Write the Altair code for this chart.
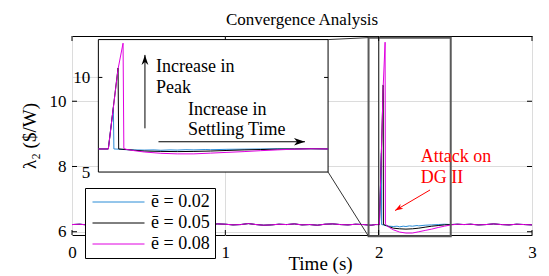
import altair as alt
import pandas as pd

# ---------------- data ----------------
series_names = ["ē = 0.02", "ē = 0.05", "ē = 0.08"]
series_colors = ["#2b8cd6", "#000000", "#e000e0"]

# common signal before the attack (shared by all three runs)
t_pre = [0.00, 0.05, 0.10, 0.15, 0.20, 0.25, 0.30, 0.35, 0.40, 0.45,
         0.50, 0.55, 0.60, 0.65, 0.70, 0.75, 0.80, 0.85, 0.90, 0.95,
         1.00, 1.05, 1.10, 1.15, 1.20, 1.25, 1.30, 1.35, 1.40, 1.45,
         1.50, 1.55, 1.60, 1.65, 1.70, 1.75, 1.80, 1.85, 1.90, 1.95, 1.98]
v_pre = [6.22, 6.23, 6.21, 6.24, 6.22, 6.20, 6.23, 6.25, 6.22, 6.21,
         6.23, 6.20, 6.22, 6.24, 6.21, 6.23, 6.22, 6.19, 6.22, 6.24,
         6.23, 6.21, 6.22, 6.25, 6.22, 6.20, 6.21, 6.23, 6.22, 6.24,
         6.21, 6.22, 6.20, 6.23, 6.24, 6.22, 6.21, 6.23, 6.22, 6.20, 6.22]

# attack transients
t_blue = [2.005, 2.0177, 2.019, 2.03, 2.05, 2.07, 2.095, 2.12, 2.137, 2.16,
          2.178, 2.20, 2.22, 2.25, 2.262, 2.303, 2.346, 2.388, 2.429, 2.472,
          2.514, 2.557]
v_blue = [6.22, 8.41, 6.22, 6.21, 6.18, 6.17, 6.16, 6.17, 6.15, 6.17,
          6.16, 6.18, 6.17, 6.19, 6.18, 6.20, 6.21, 6.22, 6.23, 6.22,
          6.23, 6.22]
t_black = [2.005, 2.0295, 2.031, 2.05, 2.07, 2.095, 2.137, 2.178, 2.22, 2.262,
           2.303, 2.346, 2.388, 2.429, 2.472, 2.514, 2.557]
v_black = [6.22, 10.50, 6.22, 6.19, 6.15, 6.11, 6.09, 6.08, 6.09, 6.11,
           6.14, 6.17, 6.19, 6.21, 6.22, 6.23, 6.22]
t_mag = [2.005, 2.0295, 2.042, 2.044, 2.052, 2.07, 2.095, 2.137, 2.178, 2.22,
         2.262, 2.303, 2.346, 2.388, 2.429, 2.472, 2.514, 2.557]
v_mag = [6.22, 10.45, 11.81, 6.24, 6.19, 6.13, 6.06, 5.99, 5.96, 5.96,
         6.00, 6.04, 6.08, 6.13, 6.17, 6.21, 6.23, 6.22]

# common signal after settling
t_post = [2.60, 2.65, 2.70, 2.75, 2.80, 2.85, 2.90, 2.95, 3.00]
v_post = [6.23, 6.21, 6.22, 6.24, 6.22, 6.21, 6.23, 6.22, 6.21]

x_ticks = [0, 1, 2, 3]
y_ticks = [6, 8, 10]
inset_y_ticks = [5, 10]
attack_time = [2.0]

zoom_box_x = [1.934, 2.470]
zoom_box_y = [5.86, 11.95]
inset_box_x = [0.172, 1.670]
inset_box_y = [7.83, 11.89]
inset_x_dom = [1.98, 2.557]
inset_y_dom = [5, 12]

peak_arrow_t = [2.097, 2.097]
peak_arrow_v = [7.31, 11.19]
settle_arrow_t = [2.131, 2.499]
settle_arrow_v = [6.60, 6.60]
inset_notes = ["Increase in", "Peak", "Increase in", "Settling Time"]
inset_notes_t = [2.125, 2.125, 2.205, 2.205]
inset_notes_v = [10.31, 9.20, 8.02, 6.96]

attack_text = ["Attack on", "DG II"]
attack_text_t = [2.275, 2.275]
attack_text_v = [8.15, 7.49]
attack_arrow_t = [2.335, 2.107]
attack_arrow_v = [7.28, 6.65]

# ---------------- layout / style ----------------
W, H = 460, 199
X_DOM = [0, 3]
Y_DOM = [5.9, 12.0]
FONT = "Liberation Serif, DejaVu Serif, serif"
GRID = "#dcdcdc"
HEAD = "M0,0L0.34,1L0,0.72L-0.34,1Z"   # arrow head, tip at the anchor
LABEL_GAP_PX = 8


def px_x(v):
    return (v - X_DOM[0]) / (X_DOM[1] - X_DOM[0]) * W


def px_y(v):
    return (Y_DOM[1] - v) / (Y_DOM[1] - Y_DOM[0]) * H


def inset_to_main_y(v):
    # value on the inset's y axis -> value on the main y axis
    f = (v - inset_y_dom[0]) / (inset_y_dom[1] - inset_y_dom[0])
    return inset_box_y[0] + f * (inset_box_y[1] - inset_box_y[0])


xs = alt.Scale(domain=X_DOM, nice=False, zero=False)
ys = alt.Scale(domain=Y_DOM, nice=False, zero=False)
ixs = alt.Scale(domain=inset_x_dom, range=[px_x(inset_box_x[0]), px_x(inset_box_x[1])],
                nice=False, zero=False)
iys = alt.Scale(domain=inset_y_dom, range=[px_y(inset_box_y[0]), px_y(inset_box_y[1])],
                nice=False, zero=False)

x_axis = alt.Axis(values=x_ticks, title="Time (s)", grid=True, gridColor=GRID, ticks=False,
                  domain=False, labelFont=FONT, labelFontSize=17, labelPadding=9,
                  labelFlush=False, format="d", titleFont=FONT, titleFontSize=19,
                  titleFontWeight="normal", titlePadding=-6, titleX=248, titleAlign="center",
                  labelColor="black", titleColor="black")
y_axis = alt.Axis(values=y_ticks, title="λ₂ ($/W)", grid=True, gridColor=GRID, ticks=False,
                  domain=False, labelFont=FONT, labelFontSize=17, labelPadding=6,
                  labelFlush=False, format="d", titleFont=FONT, titleFontSize=19,
                  titleFontWeight="normal", titlePadding=10, labelColor="black", titleColor="black")

color_scale = alt.Scale(domain=series_names, range=series_colors)
legend = alt.Legend(orient="none", legendX=13, legendY=152, title=None,
                    symbolType="M-1,0H7", symbolSize=169, symbolStrokeWidth=1,
                    labelFont=FONT, labelFontSize=18, labelOffset=43, labelColor="black",
                    padding=5, rowPadding=3, strokeColor="black", fillColor="white",
                    cornerRadius=0, labelLimit=300)


def MX(f):
    return alt.X(f, type="quantitative", scale=xs, axis=x_axis)


def MY(f):
    return alt.Y(f, type="quantitative", scale=ys, axis=y_axis)


def IX(f):
    return alt.X(f, type="quantitative", scale=ixs, axis=None)


def IY(f):
    return alt.Y(f, type="quantitative", scale=iys, axis=None)


rows = []
for name, tt, vv in zip(series_names, [t_blue, t_black, t_mag], [v_blue, v_black, v_mag]):
    for t, v in zip(t_pre + tt + t_post, v_pre + vv + v_post):
        rows.append({"series": name, "t": t, "v": v})
df = pd.DataFrame(rows)

color_enc = alt.Color("series:N", scale=color_scale, legend=legend)

# ---------------- main axes layers ----------------
main_layers = []
for name in series_names:
    main_layers.append(
        alt.Chart(df).transform_filter(alt.datum.series == name)
        .mark_line(strokeWidth=1)
        .encode(x=MX("t"), y=MY("v"), color=color_enc)
    )

main_layers.append(
    alt.Chart(pd.DataFrame({"t": attack_time})).mark_rule(color="#222222", strokeWidth=1)
    .encode(x=MX("t"))
)

zb = pd.DataFrame({"x": [zoom_box_x[0]], "x2": [zoom_box_x[1]],
                   "y": [zoom_box_y[0]], "y2": [zoom_box_y[1]]})
main_layers.append(
    alt.Chart(zb).mark_rect(fillOpacity=0, stroke="#5a5a5a", strokeWidth=2)
    .encode(x=MX("x"), x2="x2", y=MY("y"), y2="y2")
)

conn = pd.DataFrame({"x": [inset_box_x[1], inset_box_x[1]],
                     "x2": [zoom_box_x[0], zoom_box_x[0]],
                     "y": [inset_box_y[1], inset_box_y[0]],
                     "y2": [zoom_box_y[1], zoom_box_y[0]]})
main_layers.append(
    alt.Chart(conn).mark_rule(color="#333333", strokeWidth=1)
    .encode(x=MX("x"), x2="x2", y=MY("y"), y2="y2")
)

# red annotation
aa = pd.DataFrame({"x": [attack_arrow_t[0]], "x2": [attack_arrow_t[1]],
                   "y": [attack_arrow_v[0]], "y2": [attack_arrow_v[1]]})
main_layers.append(
    alt.Chart(aa).mark_rule(color="#ff0000", strokeWidth=1)
    .encode(x=MX("x"), x2="x2", y=MY("y"), y2="y2")
)
main_layers.append(
    alt.Chart(pd.DataFrame({"t": [attack_arrow_t[1]], "v": [attack_arrow_v[1]]}))
    .mark_point(shape=HEAD, filled=True, color="#ff0000", opacity=1, strokeWidth=0,
                size=256, angle=239)
    .encode(x=MX("t"), y=MY("v"))
)
main_layers.append(
    alt.Chart(pd.DataFrame({"t": attack_text_t, "v": attack_text_v, "s": attack_text}))
    .mark_text(align="left", baseline="alphabetic", font=FONT, fontSize=18, color="#ff0000")
    .encode(x=MX("t"), y=MY("v"), text="s:N")
)

# inward ticks of the main box
xt = pd.DataFrame({"t": x_ticks})
yt = pd.DataFrame({"v": y_ticks})
main_layers.append(alt.Chart(xt).mark_rule(color="black")
                   .encode(x=MX("t"), y=alt.value(H), y2=alt.value(H - 5)))
main_layers.append(alt.Chart(xt).mark_rule(color="black")
                   .encode(x=MX("t"), y=alt.value(0), y2=alt.value(5)))
main_layers.append(alt.Chart(yt).mark_rule(color="black")
                   .encode(y=MY("v"), x=alt.value(0), x2=alt.value(5)))
main_layers.append(alt.Chart(yt).mark_rule(color="black")
                   .encode(y=MY("v"), x=alt.value(W), x2=alt.value(W - 5)))

# faint grid stub left of the inset at the inset's "10" level
stub = pd.DataFrame({"x": [X_DOM[0]], "x2": [inset_box_x[0]], "y": [inset_to_main_y(10)]})
main_layers.append(alt.Chart(stub).mark_rule(color=GRID, strokeWidth=1)
                   .encode(x=MX("x"), x2="x2", y=MY("y")))

# inset background box
ib = pd.DataFrame({"x": [inset_box_x[0]], "x2": [inset_box_x[1]],
                   "y": [inset_box_y[0]], "y2": [inset_box_y[1]]})
main_layers.append(
    alt.Chart(ib).mark_rect(fill="white", stroke="black", strokeWidth=1)
    .encode(x=MX("x"), x2="x2", y=MY("y"), y2="y2")
)

# inset tick labels, just left of the inset's left edge
gap = LABEL_GAP_PX * (X_DOM[1] - X_DOM[0]) / W
itl = pd.DataFrame({"x": [inset_box_x[0] - gap] * len(inset_y_ticks),
                    "y": [inset_to_main_y(v) for v in inset_y_ticks],
                    "s": [str(v) for v in inset_y_ticks]})
main_layers.append(
    alt.Chart(itl).mark_text(align="right", baseline="alphabetic", dy=6, font=FONT,
                             fontSize=17, color="black")
    .encode(x=MX("x"), y=MY("y"), text="s:N")
)

main = alt.layer(*main_layers)

# ---------------- inset layers ----------------
ix_per_px = (inset_x_dom[1] - inset_x_dom[0]) / (px_x(inset_box_x[1]) - px_x(inset_box_x[0]))
inset_layers = []

for name in series_names:
    inset_layers.append(
        alt.Chart(df).transform_filter(alt.datum.series == name)
        .transform_filter(alt.FieldRangePredicate(field="t", range=inset_x_dom))
        .mark_line(strokeWidth=1)
        .encode(x=IX("t"), y=IY("v"), color=color_enc)
    )

itk = pd.DataFrame({"x": [inset_x_dom[0], inset_x_dom[1] - 4 * ix_per_px],
                    "x2": [inset_x_dom[0] + 4 * ix_per_px, inset_x_dom[1]],
                    "y": [10, 10]})
inset_layers.append(alt.Chart(itk).mark_rule(color="black")
                    .encode(x=IX("x"), x2="x2", y=IY("y")))

arrows = pd.DataFrame({"x": [peak_arrow_t[0], settle_arrow_t[0]],
                       "x2": [peak_arrow_t[1], settle_arrow_t[1]],
                       "y": [peak_arrow_v[0], settle_arrow_v[0]],
                       "y2": [peak_arrow_v[1], settle_arrow_v[1]]})
inset_layers.append(alt.Chart(arrows).mark_rule(color="black", strokeWidth=1)
                    .encode(x=IX("x"), x2="x2", y=IY("y"), y2="y2"))
inset_layers.append(
    alt.Chart(pd.DataFrame({"t": [peak_arrow_t[1]], "v": [peak_arrow_v[1]]}))
    .mark_point(shape=HEAD, filled=True, color="black", opacity=1, strokeWidth=0,
                size=400, angle=0)
    .encode(x=IX("t"), y=IY("v"))
)
inset_layers.append(
    alt.Chart(pd.DataFrame({"t": [settle_arrow_t[1]], "v": [settle_arrow_v[1]]}))
    .mark_point(shape=HEAD, filled=True, color="black", opacity=1, strokeWidth=0,
                size=484, angle=90)
    .encode(x=IX("t"), y=IY("v"))
)
inset_layers.append(
    alt.Chart(pd.DataFrame({"t": inset_notes_t, "v": inset_notes_v, "s": inset_notes}))
    .mark_text(align="left", baseline="alphabetic", font=FONT, fontSize=18, color="black")
    .encode(x=IX("t"), y=IY("v"), text="s:N")
)

inset = alt.layer(*inset_layers)

chart = (
    alt.layer(main, inset)
    .resolve_scale(x="independent", y="independent")
    .properties(
        width=W, height=H,
        title=alt.TitleParams("Convergence Analysis", font=FONT, fontSize=17,
                              fontWeight="normal", offset=7, anchor="middle", color="black"),
        padding={"left": 64, "top": 28, "right": 8, "bottom": 40},
        autosize=alt.AutoSizeParams(type="none"),
    )
    .configure_view(stroke="black", strokeWidth=1)
)

chart.save("out.html", embed_options={"renderer": "svg", "actions": False})
